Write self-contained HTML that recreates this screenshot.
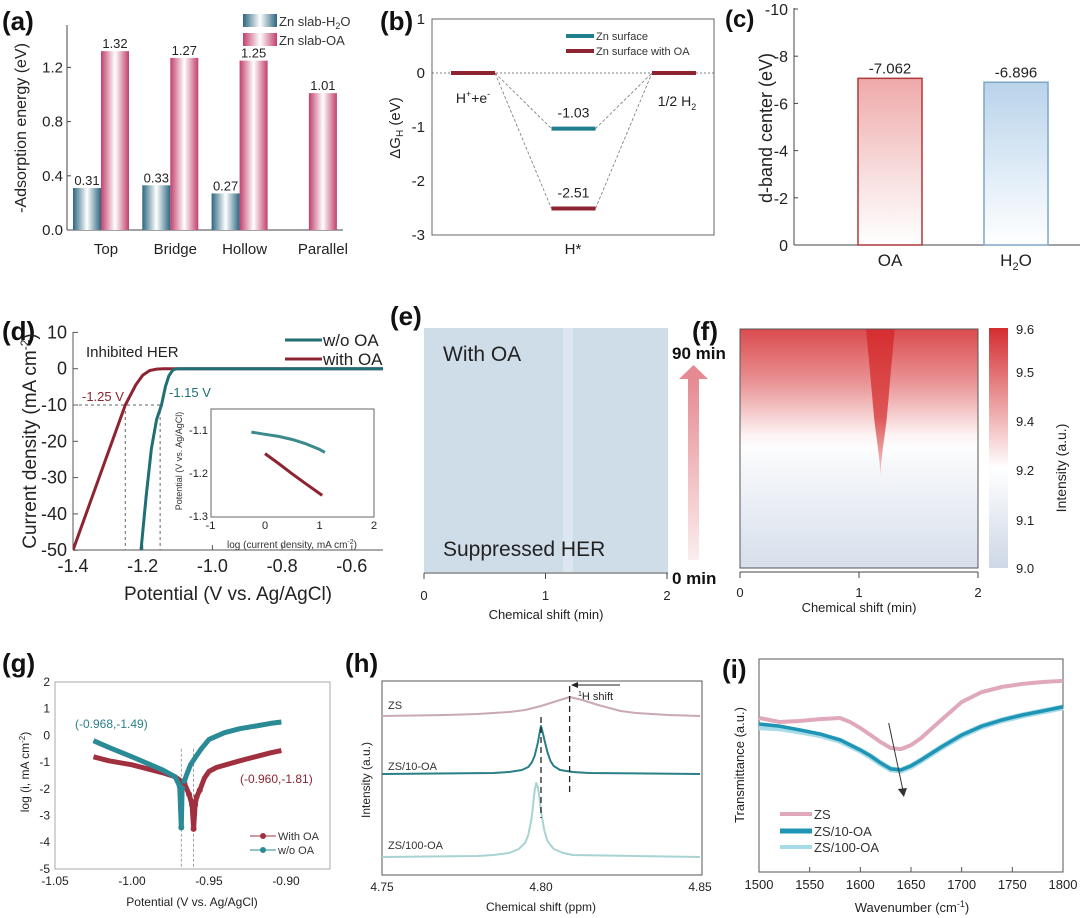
<!DOCTYPE html>
<html><head><meta charset="utf-8"><style>
html,body{margin:0;padding:0;background:#fff}
svg{display:block;font-family:"Liberation Sans",sans-serif}
</style></head><body>
<svg id="chart" width="1080" height="918" viewBox="0 0 1080 918" xmlns="http://www.w3.org/2000/svg">
<defs>
<linearGradient id="gBlue" x1="0" x2="1" y1="0" y2="0"><stop offset="0" stop-color="#2c6780"/><stop offset="0.5" stop-color="#ffffff"/><stop offset="1" stop-color="#2c6780"/></linearGradient>
<linearGradient id="gPink" x1="0" x2="1" y1="0" y2="0"><stop offset="0" stop-color="#c23f6c"/><stop offset="0.5" stop-color="#ffffff"/><stop offset="1" stop-color="#c23f6c"/></linearGradient>
<linearGradient id="gOA" x1="0" x2="0" y1="0" y2="1"><stop offset="0" stop-color="#efa9a9"/><stop offset="0.6" stop-color="#f8e0e0"/><stop offset="1" stop-color="#ffffff"/></linearGradient>
<linearGradient id="gH2O" x1="0" x2="0" y1="0" y2="1"><stop offset="0" stop-color="#b9d3ea"/><stop offset="0.6" stop-color="#e3eef8"/><stop offset="1" stop-color="#ffffff"/></linearGradient>
<linearGradient id="gArrow" x1="0" x2="0" y1="0" y2="1"><stop offset="0" stop-color="#e58a92"/><stop offset="1" stop-color="#fbeeee"/></linearGradient>
<linearGradient id="gHeat" x1="0" x2="0" y1="0" y2="1"></linearGradient>
<linearGradient id="gBar" x1="0" x2="0" y1="0" y2="1"></linearGradient>
<linearGradient id="gStreak" x1="0" x2="0" y1="0" y2="1"><stop offset="0" stop-color="#d52e30"/><stop offset="0.6" stop-color="#dd5656"/><stop offset="1" stop-color="#f4d0d0"/></linearGradient>
<clipPath id="clipD"><rect x="73" y="332" width="310" height="219"/></clipPath>
</defs>

<g font-weight="bold" font-size="26" fill="#111">
<text x="2" y="30">(a)</text>
<text x="380" y="30">(b)</text>
<text x="725" y="27" font-size="24">(c)</text>
<text x="2" y="340">(d)</text>
<text x="390" y="325">(e)</text>
<text x="692" y="340">(f)</text>
<text x="2" y="672">(g)</text>
<text x="345" y="672">(h)</text>
<text x="722" y="678">(i)</text>
</g>

<text transform="translate(26,128) rotate(-90)" text-anchor="middle" font-size="16" fill="#222">-Adsorption energy (eV)</text>
<g>
<rect x="243" y="14" width="34" height="13" fill="url(#gBlue)"/>
<text x="279" y="26" font-size="13" fill="#333">Zn slab-H<tspan font-size="9" dy="3">2</tspan><tspan dy="-3">O</tspan></text>
<rect x="243" y="33" width="34" height="13" fill="url(#gPink)"/>
<text x="279" y="45" font-size="13" fill="#333">Zn slab-OA</text>
</g>

<text transform="translate(400,128) rotate(-90)" text-anchor="middle" font-size="15" fill="#222">ΔG<tspan font-size="10" dy="3">H</tspan><tspan dy="-3"> (eV)</tspan></text>
<text x="573" y="254" text-anchor="middle" font-size="15" fill="#222">H*</text>
<g>
<line x1="566" y1="36" x2="594" y2="36" stroke="#1f7f8c" stroke-width="4"/>
<text x="596" y="40" font-size="11" fill="#333">Zn surface</text>
<line x1="566" y1="51" x2="594" y2="51" stroke="#8e2331" stroke-width="4"/>
<text x="596" y="55" font-size="11" fill="#333">Zn surface with OA</text>
</g>

<text transform="translate(772,128) rotate(-90)" text-anchor="middle" font-size="18" fill="#222">d-band center (eV)</text>

<text transform="translate(36,441) rotate(-90)" text-anchor="middle" font-size="19" fill="#222">Current density (mA cm<tspan font-size="12" dy="-7">-2</tspan><tspan dy="7">)</tspan></text>
<text x="228" y="600" text-anchor="middle" font-size="19" fill="#222">Potential (V vs. Ag/AgCl)</text>
<text x="86" y="357" font-size="15" fill="#222">Inhibited HER</text>
<g>
<line x1="285" y1="340" x2="322" y2="340" stroke="#1f6f75" stroke-width="3"/>
<text x="323" y="346" font-size="17" fill="#222">w/o OA</text>
<line x1="285" y1="359" x2="322" y2="359" stroke="#8e2331" stroke-width="3"/>
<text x="323" y="365" font-size="17" fill="#222">with OA</text>
</g>
<text x="82" y="401" font-size="13" fill="#8e2331">-1.25 V</text>
<text x="169" y="397" font-size="13" fill="#1f6f75">-1.15 V</text>
<text transform="translate(182,461) rotate(-90)" text-anchor="middle" font-size="9" fill="#333">Potential (V vs. Ag/AgCl)</text>
<text x="292" y="548" text-anchor="middle" font-size="10" fill="#333">log (current density, mA cm<tspan font-size="7" dy="-4">-2</tspan><tspan dy="4">)</tspan></text>
<text x="273" y="431" font-size="10" fill="#2a7a80">34.1 mV dec<tspan font-size="7" dy="-4">-1</tspan></text>
<text x="300" y="473" font-size="10" fill="#8e2331">89.2 mV dec<tspan font-size="7" dy="-4">-1</tspan></text>
<circle cx="228" cy="491" r="1.6" fill="#8e2331"/>
<text x="240" y="494" font-size="9" fill="#333">With OA</text>
<circle cx="228" cy="505" r="1.6" fill="#2a7a80"/>
<text x="242" y="508" font-size="9" fill="#333">w/o OA</text>

<rect x="424" y="328" width="244" height="244" fill="#cfdde9"/>
<rect x="563" y="328" width="10" height="244" fill="#dbe6f0"/>
<text x="443" y="361" font-size="21" fill="#222">With OA</text>
<text x="443" y="556" font-size="21" fill="#222">Suppressed HER</text>
<text x="546" y="619" text-anchor="middle" font-size="13" fill="#222">Chemical shift (min)</text>
<rect x="688" y="378" width="11" height="182" fill="url(#gArrow)"/>
<polygon points="679,379 708,379 693.5,365" fill="#e58a92"/>
<text x="672" y="359" font-size="17" font-weight="bold" fill="#111">90 min</text>
<text x="672" y="584" font-size="17" font-weight="bold" fill="#111">0 min</text>

<text x="753" y="365" font-size="21" fill="#222">w/o OA</text>
<text x="753" y="551" font-size="21" fill="#222">Severe HER</text>
<text x="859" y="612" text-anchor="middle" font-size="13" fill="#222">Chemical shift (min)</text>
<text transform="translate(1066,468) rotate(-90)" text-anchor="middle" font-size="14" fill="#222">Intensity (a.u.)</text>

<text transform="translate(29,772) rotate(-90)" text-anchor="middle" font-size="12" fill="#222">log (i, mA cm<tspan font-size="8" dy="-4">-2</tspan><tspan dy="4">)</tspan></text>
<text x="192" y="906" text-anchor="middle" font-size="12" fill="#222">Potential (V vs. Ag/AgCl)</text>
<text x="75" y="728" font-size="12" fill="#2a7f8a">(-0.968,-1.49)</text>
<text x="240" y="783" font-size="12" fill="#8e2331">(-0.960,-1.81)</text>
<g>
<line x1="250" y1="836" x2="276" y2="836" stroke="#a03040"/>
<circle cx="263" cy="836" r="3" fill="#a03040"/>
<text x="278" y="840" font-size="11" fill="#333">With OA</text>
<line x1="250" y1="850" x2="276" y2="850" stroke="#2a8a96"/>
<circle cx="263" cy="850" r="3" fill="#2a8a96"/>
<text x="278" y="854" font-size="11" fill="#333">w/o OA</text>
</g>

<text transform="translate(370,780) rotate(-90)" text-anchor="middle" font-size="12" fill="#222">Intensity (a.u.)</text>
<text x="541" y="911" text-anchor="middle" font-size="12" fill="#222">Chemical shift (ppm)</text>
<text x="388" y="709" font-size="11" fill="#333">ZS</text>
<text x="388" y="770" font-size="11" fill="#333">ZS/10-OA</text>
<text x="388" y="849" font-size="11" fill="#333">ZS/100-OA</text>
<line x1="620" y1="685" x2="576" y2="685" stroke="#222"/>
<polygon points="571,685 578,682 578,688" fill="#222"/>
<text x="578" y="700" font-size="11" fill="#222"><tspan font-size="7" dy="-4">1</tspan><tspan dy="4">H shift</tspan></text>

<text transform="translate(744,765) rotate(-90)" text-anchor="middle" font-size="13" fill="#222">Transmittance (a.u.)</text>
<text x="912" y="912" text-anchor="middle" font-size="13" fill="#222">Wavenumber (cm<tspan font-size="9" dy="-5">-1</tspan><tspan dy="5">)</tspan></text>
<g>
<line x1="780" y1="814" x2="812" y2="814" stroke="#e0a9bb" stroke-width="4"/>
<text x="814" y="819" font-size="13" fill="#333">ZS</text>
<line x1="780" y1="831" x2="812" y2="831" stroke="#1f95b5" stroke-width="5"/>
<text x="814" y="836" font-size="13" fill="#333">ZS/10-OA</text>
<line x1="780" y1="847" x2="812" y2="847" stroke="#a8dbe8" stroke-width="4"/>
<text x="814" y="852" font-size="13" fill="#333">ZS/100-OA</text>
</g>
</svg>

<script>
// ---------- data ----------
const aCats=['Top','Bridge','Hollow','Parallel'];
const aH2O=[0.31,0.33,0.27,null];
const aOA=[1.32,1.27,1.25,1.01];
const aTicks=[0,0.4,0.8,1.2];

const bStages=['H⁺+e⁻','H*','1/2 H₂'];
const bZn=[0,-1.03,0];
const bZnOA=[0,-2.51,0];
const bTicks=[1,0,-1,-2,-3];

const cCats=['OA','H₂O'];
const cVals=[-7.062,-6.896];
const cTicks=[0,-2,-4,-6,-8,-10];

const dWithV=[-1.4,-1.325,-1.25,-1.22,-1.2,-1.18,-1.16,-1.14,-0.5];
const dWithJ=[-50,-30,-10,-4.5,-1.8,-0.5,-0.1,0,0];
const dWoV=[-1.205,-1.19,-1.175,-1.16,-1.146,-1.135,-1.125,-1.113,-1.1,-0.5];
const dWoJ=[-50,-35,-22,-14,-10,-5,-2,-0.3,0,0];
const dXTicks=[-1.4,-1.2,-1.0,-0.8,-0.6];
const dYTicks=[10,0,-10,-20,-30,-40,-50];
const dInsWithX=[0,0.25,0.5,0.75,1.05];
const dInsWithY=[-1.155,-1.178,-1.202,-1.225,-1.252];
const dInsWoX=[-0.25,0,0.25,0.5,0.75,1.0,1.1];
const dInsWoY=[-1.105,-1.11,-1.115,-1.122,-1.132,-1.145,-1.152];
const dInsXTicks=[-1,0,1,2];
const dInsYTicks=[-1.1,-1.2,-1.3];

const eXTicks=[0,1,2];
const fTimes=[90,85,80,75,70,65,60,55,50,45,40,35,30,25,20,15,10,5,0];
const fRowIntensity=[9.55,9.52,9.49,9.46,9.43,9.39,9.35,9.31,9.27,9.24,9.21,9.19,9.17,9.15,9.13,9.11,9.09,9.07,9.05];
const fStreakHalfWidth=[0.12,0.11,0.1,0.09,0.08,0.07,0.06,0.05,0.035,0.02,0.008,0,0,0,0,0,0,0,0];
const fStreakCenter=1.18;
const cbTicks=[9.6,9.5,9.4,9.2,9.1,9.0];

const gWithV=[-1.025,-1.015,-1.0,-0.99,-0.98,-0.972,-0.966,-0.963,-0.961,-0.960,-0.959,-0.958,-0.956,-0.953,-0.95,-0.945,-0.93,-0.92,-0.91,-0.903];
const gWithLog=[-0.8,-0.95,-1.1,-1.25,-1.4,-1.55,-1.8,-2.2,-2.6,-3.5,-2.6,-2.3,-2.05,-1.6,-1.35,-1.2,-0.95,-0.8,-0.65,-0.57];
const gWoV=[-1.025,-1.015,-1.0,-0.99,-0.98,-0.972,-0.969,-0.968,-0.9675,-0.966,-0.964,-0.962,-0.958,-0.955,-0.95,-0.94,-0.93,-0.92,-0.91,-0.903];
const gWoLog=[-0.2,-0.45,-0.8,-1.05,-1.3,-1.55,-1.9,-3.45,-2.0,-1.7,-1.4,-1.1,-0.75,-0.5,-0.15,0.1,0.25,0.35,0.45,0.5];
const gXTicks=[-1.05,-1.00,-0.95,-0.90];
const gYTicks=[2,1,0,-1,-2,-3,-4,-5];

const hZsX=[4.75,4.77,4.78,4.79,4.795,4.80,4.805,4.809,4.813,4.818,4.825,4.83,4.84,4.85];
const hZsI=[0,1,2,4,6,10,15,19,16,11,5,3,1,0];
const h10X=[4.75,4.785,4.79,4.794,4.796,4.797,4.798,4.799,4.7995,4.80,4.8005,4.801,4.802,4.803,4.804,4.806,4.81,4.815,4.85];
const h10I=[0,1,2,4,7,11,18,31,40,48,42,35,22,13,8,4,2,1,0];
const h100X=[4.75,4.78,4.785,4.79,4.793,4.795,4.796,4.797,4.7975,4.798,4.7985,4.799,4.7995,4.80,4.801,4.802,4.804,4.807,4.81,4.85];
const h100I=[0,1,2,4,8,14,22,38,52,66,74,70,60,46,27,16,8,4,2,0];
const hXTicks=[4.75,4.80,4.85];

const iZsW=[1500,1510,1520,1540,1560,1580,1590,1600,1610,1620,1630,1640,1650,1660,1680,1700,1720,1740,1760,1780,1800];
const iZsT=[72.3,71.4,70.4,70.9,71.8,72.3,70.4,67.6,64.3,61.0,58.2,57.7,59.6,62.9,71.4,79.8,84.5,86.9,88.3,89.2,89.7];
const i10W=[1500,1520,1540,1560,1580,1600,1610,1620,1630,1640,1650,1660,1680,1700,1720,1740,1760,1780,1800];
const i10T=[69.5,68.5,66.7,64.8,62.0,57.3,54.5,51.2,48.4,47.9,49.8,52.6,58.7,64.3,68.5,71.4,73.7,75.6,77.5];
const i100T=[68,67.5,66,64.3,61.6,57,54.2,51,48.2,47.6,49.6,52.4,58.5,64.1,68.3,71.2,73.5,75.4,77.3];
const iXTicks=[1500,1550,1600,1650,1700,1750,1800];

// ---------- helpers ----------
const NS='http://www.w3.org/2000/svg';
const S=document.getElementById('chart');
function mk(tag,attrs){const e=document.createElementNS(NS,tag);for(const k in attrs)e.setAttribute(k,attrs[k]);S.appendChild(e);return e;}
function T(x,y,s,size,anchor,fill){const e=mk('text',{x:x,y:y,'font-size':size,'text-anchor':anchor||'middle',fill:fill||'#222'});e.textContent=s;return e;}
function pts(xs,ys,fx,fy){return xs.map((v,i)=>fx(v).toFixed(1)+','+fy(ys[i]).toFixed(1)).join(' ');}
function fmt(v,d){return v.toFixed(d);}

// ---------- (a) ----------
const ya=v=>230-v*135.5, xa=i=>101+69.3*i;
let el;
el=mk('line',{x1:67,y1:25,x2:67,y2:230,stroke:'#444'});


el=mk('line',{x1:67,y1:230,x2:343,y2:230,stroke:'#444'});


aTicks.forEach(v=>{
  el=mk('line',{x1:67,y1:ya(v),x2:71,y2:ya(v),stroke:'#444'});
  
  
  el=T(63,ya(v)+5,fmt(v,1),15,'end');
  
  
});
aCats.forEach((c,i)=>{
  const cx=xa(i);
  if(aH2O[i]!==null){
    el=mk('rect',{x:cx-28,y:ya(aH2O[i]),width:28,height:ya(0)-ya(aH2O[i]),fill:'url(#gBlue)'});
    
    
    el=T(cx-14,ya(aH2O[i])-3,fmt(aH2O[i],2),13);
    
    
  }
  el=mk('rect',{x:cx,y:ya(aOA[i]),width:28,height:ya(0)-ya(aOA[i]),fill:'url(#gPink)'});
  
  
  el=T(cx+14,ya(aOA[i])-3,fmt(aOA[i],2),13);
  
  
  el=T(aH2O[i]===null?cx+14:cx+5,254,c,15);
  
  
});

// ---------- (b) ----------
const yb=v=>73-v*54, xb=i=>473+100.5*i;
el=mk('rect',{x:432,y:19,width:282,height:216,fill:'none',stroke:'#666'});


el=mk('line',{x1:432,y1:yb(0),x2:714,y2:yb(0),stroke:'#555','stroke-dasharray':'2,2','stroke-width':0.8});


bTicks.forEach(v=>{
  el=T(425,yb(v)+5,String(v),15,'end');
  
  
});
[[bZn,'#1f7f8c','zn'],[bZnOA,'#8e2331','zn-oa']].forEach(([arr,col,nm])=>{
  for(let i=0;i<arr.length-1;i++){
    el=mk('line',{x1:xb(i)+22,y1:yb(arr[i]),x2:xb(i+1)-22,y2:yb(arr[i+1]),stroke:'#777','stroke-dasharray':'3,2','stroke-width':0.8});
    
    
  }
});
[[bZn,'#1f7f8c','zn'],[bZnOA,'#8e2331','zn-oa']].forEach(([arr,col,nm])=>{
  arr.forEach((v,i)=>{
    el=mk('line',{x1:xb(i)-22,y1:yb(v),x2:xb(i)+22,y2:yb(v),stroke:col,'stroke-width':4});
    
    
    if(i===1){
      el=T(xb(i),yb(v)-11,fmt(v,2),14);
      
      
    }
  });
});
el=T(xb(0),103,'',14);
el.innerHTML='H<tspan font-size="9" dy="-6">+</tspan><tspan dy="6">+e</tspan><tspan font-size="9" dy="-6">-</tspan>';


el=T(xb(2)+3,106,'',14);
el.innerHTML='1/2 H<tspan font-size="9" dy="4">2</tspan>';



// ---------- (c) ----------
const yc=v=>245+v*23.6, xc=i=>890+126*i;
el=mk('line',{x1:794,y1:8,x2:794,y2:245,stroke:'#444'});


el=mk('line',{x1:794,y1:245,x2:1080,y2:245,stroke:'#444'});


cTicks.forEach(v=>{
  el=mk('line',{x1:794,y1:yc(v),x2:798,y2:yc(v),stroke:'#444'});
  
  
  el=T(788,yc(v)+6,String(v),16,'end');
  
  
});
cVals.forEach((v,i)=>{
  el=mk('rect',{x:xc(i)-32,y:yc(v),width:64,height:yc(0)-yc(v),fill:i===0?'url(#gOA)':'url(#gH2O)',stroke:i===0?'#b0393d':'#7fa6c6','stroke-width':1.5});
  
  
  el=T(xc(i),yc(v)-5,fmt(v,3),15);
  
  
});
el=T(xc(0),266,cCats[0],17);


el=T(xc(1),266,'',17);
el.innerHTML='H<tspan font-size="11" dy="4">2</tspan><tspan dy="-4">O</tspan>';



// ---------- (d) ----------
const xd=v=>73+(v+1.4)*348.5, yd=v=>368.7-v*3.63;
el=mk('line',{x1:73,y1:332,x2:73,y2:550,stroke:'#555'});


el=mk('line',{x1:73,y1:550,x2:383,y2:550,stroke:'#555'});


dXTicks.forEach(v=>{
  el=mk('line',{x1:xd(v),y1:550,x2:xd(v),y2:545,stroke:'#555'});
  
  
  el=T(xd(v),572,fmt(v,1),18);
  
  
});
dYTicks.forEach(v=>{
  el=mk('line',{x1:73,y1:yd(v),x2:78,y2:yd(v),stroke:'#555'});
  
  
  el=T(67,yd(v)+6,String(v),18,'end');
  
  
});
el=mk('polyline',{points:xd(-1.4)+','+yd(-10)+' '+xd(-1.15)+','+yd(-10),fill:'none',stroke:'#666','stroke-dasharray':'3,3'});


[-1.25,-1.15].forEach(v=>{
  el=mk('line',{x1:xd(v),y1:yd(-10),x2:xd(v),y2:yd(-50),stroke:'#666','stroke-dasharray':'3,3'});
  
  
});
el=mk('polyline',{points:pts(dWithV,dWithJ,xd,yd),fill:'none',stroke:'#8e2331','stroke-width':3,'clip-path':'url(#clipD)'});


el=mk('polyline',{points:pts(dWoV,dWoJ,xd,yd),fill:'none',stroke:'#1f6f75','stroke-width':3,'clip-path':'url(#clipD)'});


const xdi=v=>265+v*54.5, ydi=v=>430-(v+1.1)*430;
el=mk('rect',{x:211,y:409,width:163,height:108,fill:'#fff',stroke:'#666'});


dInsXTicks.forEach(v=>{
  el=T(xdi(v),529,String(v),11);
  
  
});
dInsYTicks.forEach(v=>{
  el=T(208,ydi(v)+4,fmt(v,1),11,'end');
  
  
});
el=mk('polyline',{points:pts(dInsWithX,dInsWithY,xdi,ydi),fill:'none',stroke:'#8e2331','stroke-width':3});


el=mk('polyline',{points:pts(dInsWoX,dInsWoY,xdi,ydi),fill:'none',stroke:'#3d8a8c','stroke-width':3});



// ---------- (e) axis ----------
const xe=v=>424+v*121.5;
el=mk('line',{x1:424,y1:573,x2:668,y2:573,stroke:'#444'});


eXTicks.forEach(v=>{
  el=mk('line',{x1:xe(v),y1:573,x2:xe(v),y2:579,stroke:'#444'});
  
  
  el=T(xe(v),600,String(v),13);
  
  
});

// ---------- (f) heatmap ----------
function cmap(v){
  const st=[[9.0,[205,215,230]],[9.25,[255,255,255]],[9.6,[212,45,48]]];
  if(v<=st[0][0])return 'rgb('+st[0][1]+')';
  for(let i=0;i<st.length-1;i++){
    if(v<=st[i+1][0]){const t=(v-st[i][0])/(st[i+1][0]-st[i][0]);
      const c=st[i][1].map((a,k)=>Math.round(a+(st[i+1][1][k]-a)*t));return 'rgb('+c+')';}
  }
  return 'rgb('+st[2][1]+')';
}
const fx=v=>740+v*119, fy=t=>568-(t/90)*239;
const hg=document.getElementById('gHeat');
fRowIntensity.forEach((v,i)=>{
  const s=document.createElementNS(NS,'stop');
  s.setAttribute('offset',(1-fTimes[i]/90).toFixed(3));
  s.setAttribute('stop-color',cmap(v));
  hg.appendChild(s);
});
el=mk('rect',{x:740,y:329,width:238,height:239,fill:'url(#gHeat)'});


(function(){
  let left=[],right=[];
  fTimes.forEach((t,i)=>{left.push(fx(fStreakCenter-fStreakHalfWidth[i]).toFixed(1)+','+fy(t).toFixed(1));
    right.unshift(fx(fStreakCenter+fStreakHalfWidth[i]).toFixed(1)+','+fy(t).toFixed(1));});
  const last=fStreakHalfWidth.findIndex(w=>w===0);
  const l=left.slice(0,last+1), r=right.slice(right.length-last-1);
  el=mk('polygon',{points:l.concat(r).join(' '),fill:'url(#gStreak)'});
  
  
})();
el=mk('rect',{x:740,y:329,width:238,height:239,fill:'none',stroke:'#555'});


el=mk('line',{x1:740,y1:572,x2:978,y2:572,stroke:'#444'});


eXTicks.forEach(v=>{
  el=mk('line',{x1:fx(v),y1:572,x2:fx(v),y2:578,stroke:'#444'});
  
  
  el=T(fx(v),597,String(v),13);
  
  
});
const cbg=document.getElementById('gBar');
for(let k=0;k<=12;k++){const v=9.6-k*0.05;const s=document.createElementNS(NS,'stop');
  s.setAttribute('offset',(k/12).toFixed(3));s.setAttribute('stop-color',cmap(v));cbg.appendChild(s);}
el=mk('rect',{x:989,y:328,width:19,height:240,fill:'url(#gBar)'});


const cbY=[329,372,421,470,520,568];
cbTicks.forEach((v,i)=>{
  el=T(1016,cbY[i]+5,fmt(v,1),13,'start');
  
  
});

// ---------- (g) ----------
const xg=v=>55+(v+1.05)*1540, yg=v=>682+(2-v)*26.7;
el=mk('rect',{x:55,y:682,width:275,height:187,fill:'none',stroke:'#aaa'});


gXTicks.forEach(v=>{
  el=T(xg(v),885,fmt(v,2),12);
  
  
});
gYTicks.forEach(v=>{
  el=T(50,yg(v)+4,String(v),12,'end');
  
  
});
[-0.968,-0.960].forEach(v=>{
  el=mk('line',{x1:xg(v),y1:yg(-0.5),x2:xg(v),y2:869,stroke:'#888','stroke-dasharray':'3,2','stroke-width':0.8});
  
  
});
el=mk('polyline',{points:pts(gWithV,gWithLog,xg,yg),fill:'none',stroke:'#a03040','stroke-width':5,'stroke-linejoin':'round'});


el=mk('polyline',{points:pts(gWoV,gWoLog,xg,yg),fill:'none',stroke:'#2a8a96','stroke-width':5,'stroke-linejoin':'round'});


[[gWithV,gWithLog,'#a03040','with'],[gWoV,gWoLog,'#2a8a96','wo']].forEach(([xs,ys,c,n])=>{
  xs.forEach((v,i)=>{ if(ys[i]<-1.6){
    el=mk('circle',{cx:xg(v),cy:yg(ys[i]),r:3,fill:c});
    
    }});
});

// ---------- (h) ----------
const xh=v=>382+(v-4.75)*3180;
el=mk('rect',{x:382,y:681,width:320,height:194,fill:'none',stroke:'#555'});


hXTicks.forEach(v=>{
  el=T(xh(v),891,fmt(v,2),12);
  
  
});
[[hZsX,hZsI,716,'#c9a9b4','zs'],[h10X,h10I,774,'#2a7f86','zs10'],[h100X,h100I,857,'#a9d3d3','zs100']].forEach(([xs,is,b,c,n])=>{
  el=mk('polyline',{points:pts(xs,is,xh,v=>b-v),fill:'none',stroke:c,'stroke-width':2,'stroke-linejoin':'round'});
  
  
});
el=mk('line',{x1:xh(4.80),y1:717,x2:xh(4.80),y2:818,stroke:'#222','stroke-dasharray':'6,4','stroke-width':1.3});


el=mk('line',{x1:xh(4.809),y1:686,x2:xh(4.809),y2:792,stroke:'#222','stroke-dasharray':'6,4','stroke-width':1.3});



// ---------- (i) ----------
const xi=v=>759+(v-1500)*1.0133, yi=v=>872-v*2.13;
el=mk('rect',{x:759,y:659,width:304,height:213,fill:'none',stroke:'#555'});


iXTicks.forEach(v=>{
  el=mk('line',{x1:xi(v),y1:872,x2:xi(v),y2:867,stroke:'#555'});
  
  
  el=T(xi(v),889,String(v),13);
  
  
});
el=mk('polyline',{points:pts(iZsW,iZsT,xi,yi),fill:'none',stroke:'#e0a9bb','stroke-width':4});


el=mk('polyline',{points:pts(i10W,i100T,xi,yi),fill:'none',stroke:'#a8dbe8','stroke-width':6});


el=mk('polyline',{points:pts(i10W,i10T,xi,yi),fill:'none',stroke:'#1f95b5','stroke-width':3.5});


el=mk('line',{x1:xi(1628),y1:723,x2:xi(1642),y2:790,stroke:'#333'});


el=mk('polygon',{points:(xi(1643))+',797 '+(xi(1639)-2)+',789 '+(xi(1645)+1)+',788',fill:'#333'});


</script>
</body></html>
